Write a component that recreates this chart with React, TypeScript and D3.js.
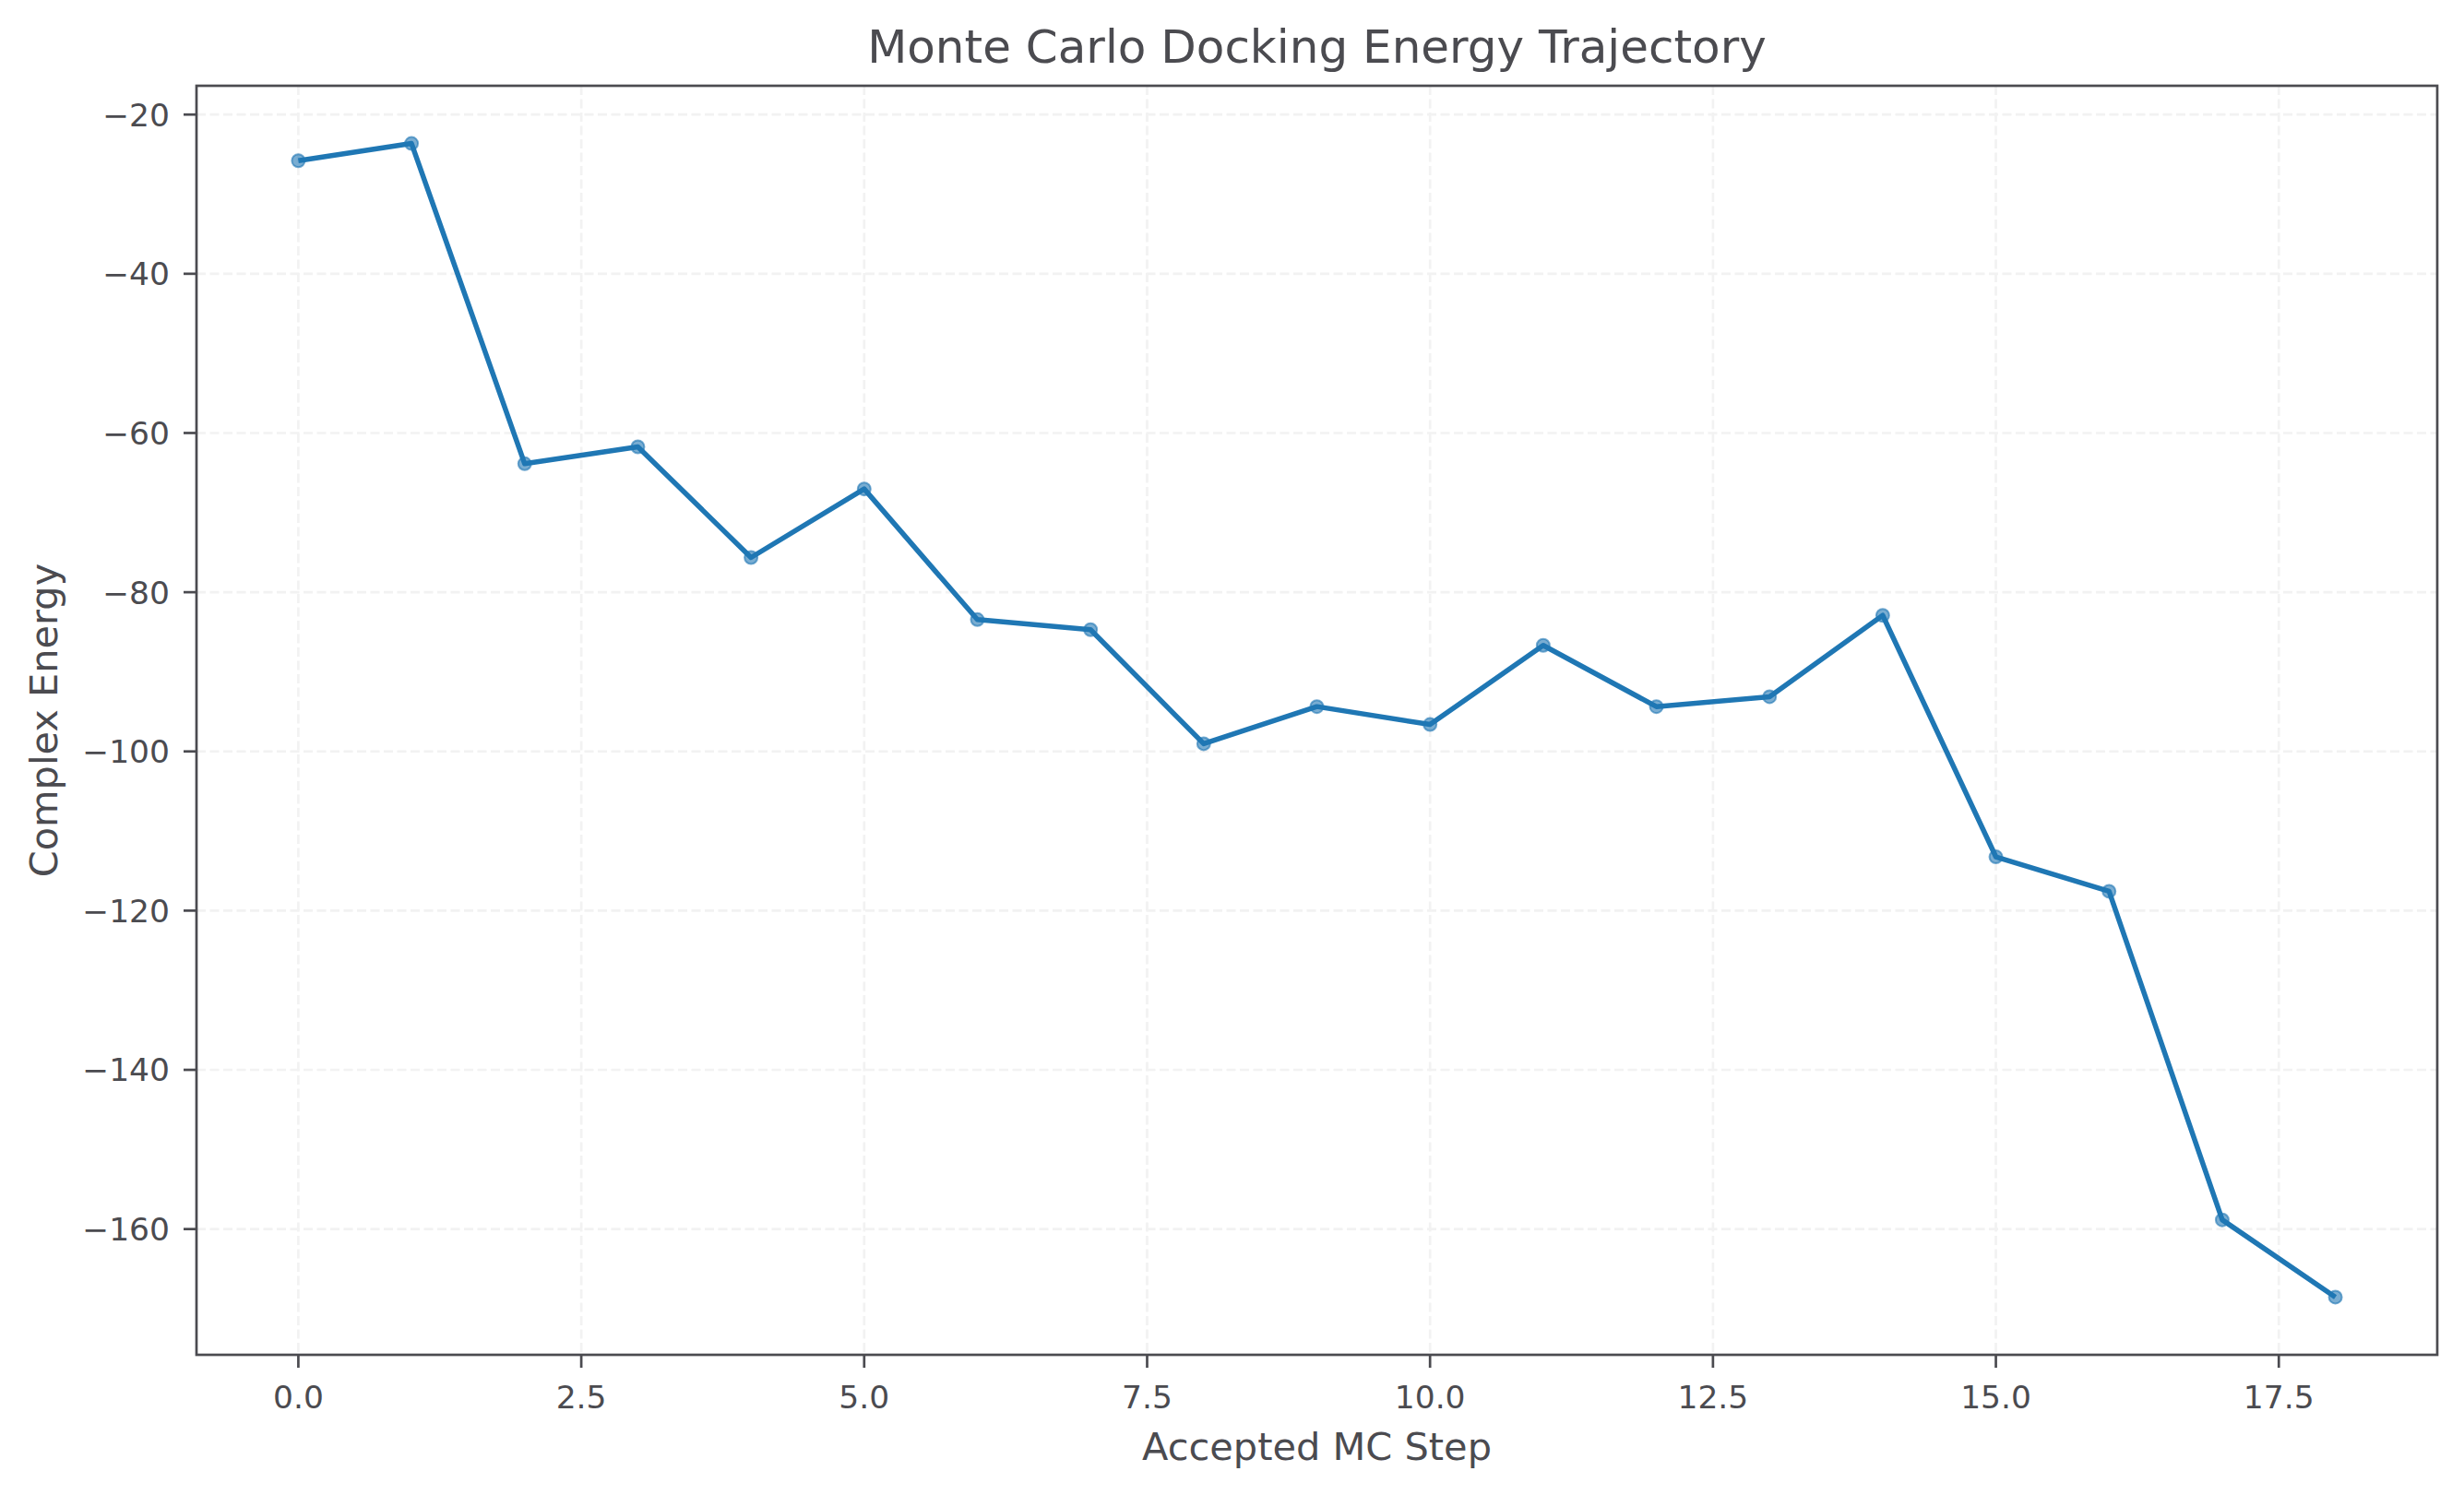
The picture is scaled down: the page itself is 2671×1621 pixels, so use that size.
import React, { useEffect, useRef } from "react";
import * as d3 from "d3";

const steps: number[] = [0, 1, 2, 3, 4, 5, 6, 7, 8, 9, 10, 11, 12, 13, 14, 15, 16, 17, 18];
const energies: number[] = [
  -25.8, -23.63, -63.86, -61.74, -75.64, -67.03, -83.44, -84.71, -99.03, -94.37,
  -96.62, -86.68, -94.37, -93.13, -82.91, -113.24, -117.57, -158.84, -168.55,
];
const xTicks: number[] = [0, 2.5, 5, 7.5, 10, 12.5, 15, 17.5];
const yTicks: number[] = [-20, -40, -60, -80, -100, -120, -140, -160];

const titleText = "Monte Carlo Docking Energy Trajectory";
const xLabelText = "Accepted MC Step";
const yLabelText = "Complex Energy";

const W = 2671;
const H = 1621;

export default function App() {
  const ref = useRef<SVGSVGElement | null>(null);

  useEffect(() => {
    const svg = d3.select(ref.current);
    svg.selectAll("*").remove();

    const left = 213, right = 2642, top = 93, bottom = 1469;
    const textColor = "#4b4b50";
    const font = "DejaVu Sans, sans-serif";

    const xMin = d3.min(steps)!, xMax = d3.max(steps)!;
    const xPad = (xMax - xMin) * 0.05;
    const yMin = d3.min(energies)!, yMax = d3.max(energies)!;
    const yPad = (yMax - yMin) * 0.05;

    const x = d3.scaleLinear().domain([xMin - xPad, xMax + xPad]).range([left, right]);
    const y = d3.scaleLinear().domain([yMin - yPad, yMax + yPad]).range([bottom, top]);

    svg.append("rect").attr("x", 0).attr("y", 0).attr("width", W).attr("height", H).attr("fill", "#ffffff");

    // grid
    const grid = svg.append("g");
    grid.selectAll("line.gx").data(xTicks).enter().append("line")
      .attr("x1", (d) => x(d)).attr("x2", (d) => x(d))
      .attr("y1", top).attr("y2", bottom)
      .attr("stroke", "#f2f2f2").attr("stroke-width", 2.7)
      .attr("stroke-dasharray", "10,4.5");
    grid.selectAll("line.gy").data(yTicks).enter().append("line")
      .attr("x1", left).attr("x2", right)
      .attr("y1", (d) => y(d)).attr("y2", (d) => y(d))
      .attr("stroke", "#f2f2f2").attr("stroke-width", 2.7)
      .attr("stroke-dasharray", "10,4.5");

    const pts = steps.map((s, i) => [s, energies[i]] as [number, number]);

    // markers
    svg.append("g").selectAll("circle").data(pts).enter().append("circle")
      .attr("cx", (d) => x(d[0])).attr("cy", (d) => y(d[1]))
      .attr("r", 7)
      .attr("fill", "#1f77b4").attr("fill-opacity", 0.6)
      .attr("stroke", "#1f77b4").attr("stroke-opacity", 0.6).attr("stroke-width", 2);

    // line
    const line = d3.line<[number, number]>().x((d) => x(d[0])).y((d) => y(d[1]));
    svg.append("path").datum(pts).attr("d", line)
      .attr("fill", "none").attr("stroke", "#1f77b4").attr("stroke-width", 5.5)
      .attr("stroke-linejoin", "round").attr("stroke-linecap", "butt");

    // spines
    svg.append("rect").attr("x", left).attr("y", top)
      .attr("width", right - left).attr("height", bottom - top)
      .attr("fill", "none").attr("stroke", textColor).attr("stroke-width", 2.7);

    // x ticks
    const gx = svg.append("g");
    xTicks.forEach((t) => {
      gx.append("line").attr("x1", x(t)).attr("x2", x(t)).attr("y1", bottom).attr("y2", bottom + 14)
        .attr("stroke", textColor).attr("stroke-width", 2.7);
      gx.append("text").attr("x", x(t)).attr("y", 1527).attr("text-anchor", "middle")
        .attr("font-family", font).attr("font-size", 34.5).attr("fill", textColor)
        .text(d3.format(".1f")(t));
    });

    // y ticks
    const gy = svg.append("g");
    yTicks.forEach((t) => {
      gy.append("line").attr("x1", left - 14).attr("x2", left).attr("y1", y(t)).attr("y2", y(t))
        .attr("stroke", textColor).attr("stroke-width", 2.7);
      gy.append("text").attr("x", 184).attr("y", y(t)).attr("dy", "0.36em").attr("text-anchor", "end")
        .attr("font-family", font).attr("font-size", 34.5).attr("fill", textColor)
        .text(String(t).replace("-", "\u2212"));
    });

    // title
    svg.append("text").attr("x", (left + right) / 2).attr("y", 68).attr("text-anchor", "middle")
      .attr("font-family", font).attr("font-size", 50).attr("fill", textColor).text(titleText);

    // x label
    svg.append("text").attr("x", (left + right) / 2).attr("y", 1583).attr("text-anchor", "middle")
      .attr("font-family", font).attr("font-size", 41.5).attr("fill", textColor).text(xLabelText);

    // y label
    svg.append("text")
      .attr("transform", `translate(62,${(top + bottom) / 2}) rotate(-90)`)
      .attr("text-anchor", "middle")
      .attr("font-family", font).attr("font-size", 41.5).attr("fill", textColor).text(yLabelText);
  }, []);

  return (
    <svg
      ref={ref}
      width={W}
      height={H}
      style={{ position: "absolute", left: 0, top: 0, display: "block" }}
    />
  );
}
